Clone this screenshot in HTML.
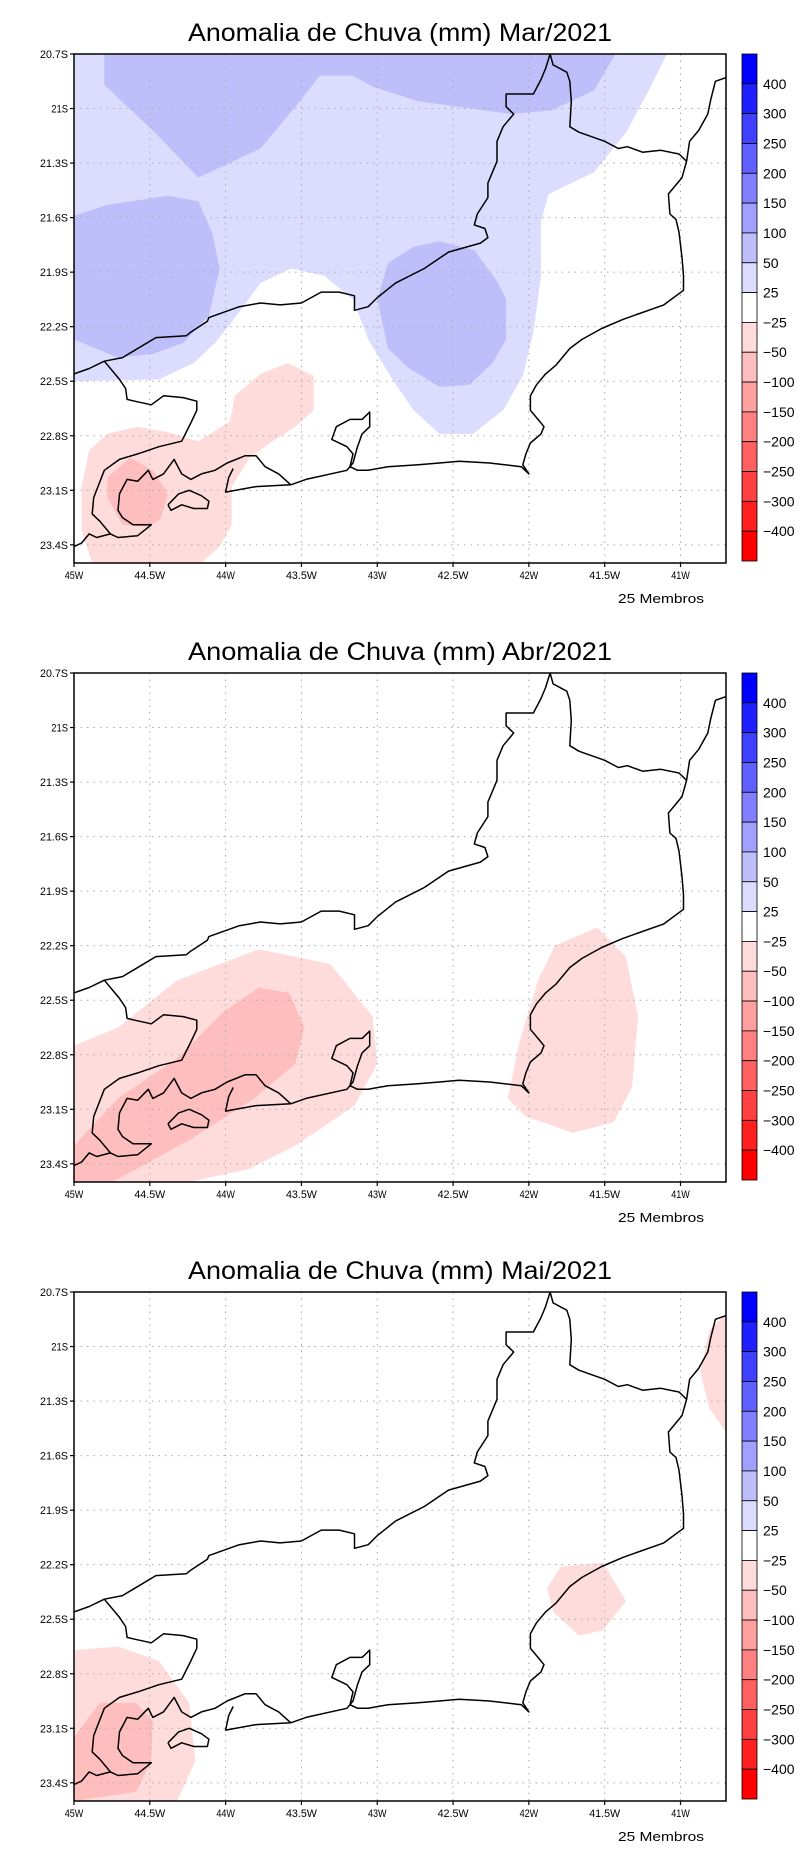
<!DOCTYPE html>
<html><head><meta charset="utf-8">
<style>
html,body{margin:0;padding:0;background:#fff;}
svg{display:block;}
text{font-family:"Liberation Sans",sans-serif;fill:#000;}
</style></head>
<body>
<svg id="fig" width="800" height="1854" viewBox="0 0 800 1854" xmlns="http://www.w3.org/2000/svg"></svg>
<script>
// ---- data ----
const panelTitles = ["Anomalia de Chuva (mm) Mar/2021","Anomalia de Chuva (mm) Abr/2021","Anomalia de Chuva (mm) Mai/2021"];
const lonTicks = [45,44.5,44,43.5,43,42.5,42,41.5,41];
const lonTickLabels = ["45W","44.5W","44W","43.5W","43W","42.5W","42W","41.5W","41W"];
const latTicks = [20.7,21,21.3,21.6,21.9,22.2,22.5,22.8,23.1,23.4];
const latTickLabels = ["20.7S","21S","21.3S","21.6S","21.9S","22.2S","22.5S","22.8S","23.1S","23.4S"];
const cbarLabels = ["400","300","250","200","150","100","50","25","-25","-50","-100","-150","-200","-250","-300","-400"];
const cbarColors = ["#0000ff","#2020ff","#4040ff","#6060ff","#8080ff","#a0a0ff","#bebefb","#dcdcfe","#ffffff","#ffdcdc","#ffbebe","#ffa0a0","#ff8080","#ff6060","#ff4040","#ff2020","#ff0000"];
// outlines [lonW, latS]
const borderLine = [[45.00,22.46],[44.90,22.43],[44.80,22.39],[44.68,22.37],[44.60,22.33],[44.46,22.26],[44.26,22.25],[44.23,22.23],[44.12,22.17],[44.11,22.15],[43.91,22.09],[43.77,22.07],[43.64,22.08],[43.50,22.07],[43.37,22.01],[43.25,22.01],[43.15,22.03],[43.15,22.11],[43.06,22.09],[43.00,22.04],[42.88,21.96],[42.69,21.88],[42.53,21.79],[42.32,21.74],[42.27,21.71],[42.29,21.66],[42.36,21.64],[42.34,21.58],[42.27,21.49],[42.27,21.41],[42.21,21.29],[42.21,21.18],[42.17,21.10],[42.10,21.03],[42.15,20.99],[42.15,20.92],[41.97,20.92],[41.92,20.84],[41.89,20.78],[41.86,20.70],[41.84,20.76],[41.75,20.80],[41.73,20.85],[41.72,20.96],[41.73,21.10],[41.67,21.13],[41.50,21.18],[41.41,21.22],[41.35,21.21],[41.25,21.24],[41.13,21.23],[41.01,21.25],[40.96,21.29]];
const northCoast = [[40.96,21.29],[40.94,21.18],[40.88,21.12],[40.82,21.03],[40.80,20.95],[40.77,20.85],[40.70,20.83]];
const mainCoast = [[40.96,21.29],[40.99,21.38],[41.08,21.47],[41.07,21.58],[41.03,21.61],[41.01,21.68],[40.99,21.82],[40.98,21.92],[40.98,22.00],[41.11,22.08],[41.28,22.13],[41.38,22.16],[41.52,22.21],[41.65,22.27],[41.73,22.32],[41.78,22.37],[41.82,22.41],[41.89,22.46],[41.95,22.52],[41.99,22.58],[41.99,22.66],[41.94,22.71],[41.90,22.75],[41.92,22.79],[41.99,22.84],[42.02,22.90],[42.04,22.96],[42.00,23.01],[42.05,22.97],[42.26,22.95],[42.46,22.94],[42.59,22.95],[42.73,22.96],[42.93,22.97],[43.06,22.99],[43.13,22.99],[43.18,22.97],[43.16,22.90],[43.20,22.86],[43.30,22.82],[43.27,22.75],[43.18,22.71],[43.10,22.71],[43.05,22.67],[43.05,22.75],[43.10,22.79],[43.13,22.86],[43.16,22.95],[43.20,22.99],[43.47,23.04],[43.57,23.07],[43.65,23.01],[43.74,22.97],[43.80,22.91],[43.87,22.91],[43.99,22.95],[44.07,22.99],[44.16,23.01],[44.23,23.04],[44.29,23.01],[44.34,22.93],[44.41,23.01],[44.48,23.04],[44.51,22.99],[44.58,23.05],[44.65,23.04],[44.70,23.12],[44.71,23.21],[44.68,23.25],[44.61,23.29],[44.49,23.29],[44.58,23.35],[44.71,23.36],[44.76,23.34],[44.83,23.27],[44.88,23.23],[44.87,23.14],[44.80,22.99],[44.70,22.93],[44.58,22.90],[44.44,22.86],[44.29,22.83],[44.23,22.73],[44.19,22.66],[44.19,22.61],[44.28,22.59],[44.41,22.58],[44.49,22.63],[44.60,22.61],[44.65,22.60],[44.66,22.54],[44.70,22.49],[44.73,22.46],[44.80,22.39]];
const swCoast = [[44.76,23.34],[44.85,23.36],[44.90,23.34],[44.95,23.39],[45.00,23.41]];
const restinga = [[43.57,23.07],[43.80,23.08],[44.00,23.11],[43.98,23.03],[43.95,22.98]];
const ilhaGrande = [[44.38,23.18],[44.31,23.12],[44.24,23.10],[44.16,23.13],[44.11,23.16],[44.12,23.20],[44.21,23.20],[44.29,23.18],[44.36,23.21],[44.38,23.18]];
// contour fills per panel: [colorIndex, polygon]
const marLight = [[45,20.7],[41.09,20.7],[41.21,20.90],[41.35,21.12],[41.57,21.35],[41.87,21.47],[41.92,21.62],[41.92,21.92],[41.97,22.23],[42.04,22.47],[42.17,22.66],[42.37,22.79],[42.59,22.79],[42.76,22.66],[42.90,22.49],[43.06,22.27],[43.16,22.05],[43.35,21.92],[43.57,21.88],[43.77,21.96],[43.91,22.12],[44.07,22.29],[44.21,22.40],[44.44,22.49],[45,22.50]];
const marBlueA = [[44.80,20.70],[44.80,20.87],[44.48,21.12],[44.18,21.38],[43.77,21.22],[43.54,20.99],[43.38,20.82],[43.16,20.82],[43.03,20.88],[42.73,20.96],[42.12,21.03],[41.85,21.01],[41.57,20.90],[41.43,20.70]];
const marBlueB = [[45,21.59],[44.78,21.53],[44.38,21.48],[44.18,21.51],[44.09,21.68],[44.04,21.88],[44.11,22.14],[44.28,22.29],[44.48,22.35],[44.71,22.37],[45,22.27]];
const marBlueC = [[42.93,21.85],[42.76,21.76],[42.59,21.73],[42.36,21.78],[42.21,21.95],[42.15,22.05],[42.15,22.27],[42.24,22.40],[42.39,22.52],[42.59,22.53],[42.79,22.43],[42.93,22.32],[43.00,22.05]];
const marPink = [[44.88,23.5],[44.95,23.32],[44.95,23.08],[44.90,22.88],[44.78,22.79],[44.58,22.75],[44.38,22.78],[44.18,22.83],[43.97,22.72],[43.94,22.58],[43.77,22.46],[43.59,22.40],[43.42,22.47],[43.42,22.66],[43.54,22.75],[43.69,22.83],[43.84,22.92],[43.96,23.08],[43.96,23.29],[44.04,23.41],[44.16,23.5]];
const marPink2 = [[44.78,23.03],[44.63,22.92],[44.48,22.99],[44.38,23.12],[44.43,23.26],[44.51,23.30],[44.68,23.29],[44.78,23.14]];
const abrPink = [[45,22.75],[44.71,22.65],[44.32,22.39],[43.78,22.22],[43.31,22.30],[43.03,22.59],[43.0,22.85],[43.15,23.08],[43.54,23.30],[43.85,23.43],[44.24,23.5],[45,23.5]];
const abrPink2 = [[45,23.30],[44.71,23.04],[44.32,22.82],[44.01,22.56],[43.78,22.43],[43.58,22.46],[43.48,22.65],[43.54,22.85],[43.81,23.04],[44.24,23.27],[44.59,23.43],[44.75,23.5],[45,23.5]];
const abrPinkE = [[41.83,22.20],[41.55,22.10],[41.36,22.26],[41.28,22.59],[41.32,22.98],[41.44,23.17],[41.71,23.23],[42.02,23.14],[42.14,23.04],[42.06,22.72],[41.94,22.39]];
const maiPink = [[45,22.67],[44.71,22.65],[44.44,22.73],[44.24,22.96],[44.20,23.28],[44.32,23.5],[45,23.5]];
const maiPink2 = [[45,23.15],[44.83,22.96],[44.59,22.96],[44.48,23.06],[44.49,23.28],[44.59,23.45],[45,23.5]];
const maiPinkE = [[41.79,22.21],[41.51,22.19],[41.36,22.40],[41.51,22.56],[41.67,22.59],[41.84,22.46],[41.88,22.33]];
const maiPinkNE = [[40.70,20.82],[40.81,20.91],[40.87,21.14],[40.81,21.34],[40.70,21.47]];
const panelFills = [
  [[7,marLight],[6,marBlueA],[6,marBlueB],[6,marBlueC],[9,marPink],[10,marPink2]],
  [[9,abrPink],[10,abrPink2],[9,abrPinkE]],
  [[9,maiPink],[10,maiPink2],[9,maiPinkE],[9,maiPinkNE]]
];
const panelNames = ["mar","abr","mai"];

// ---- layout ----
const NS="http://www.w3.org/2000/svg";
const svg=document.getElementById('fig');
const PL=74, PR=726, PH=509, LON0=45, LON1=40.7, LAT0=20.7, LAT1=23.5;
const panelTop=[54,673,1292];
function el(tag,attrs,parent){const e=document.createElementNS(NS,tag);for(const k in attrs)e.setAttribute(k,attrs[k]);(parent||svg).appendChild(e);return e;}
function xs(lonW){return PL+(LON0-lonW)/(LON0-LON1)*(PR-PL);}
function ys(top,latS){return top+(latS-LAT0)/(LAT1-LAT0)*PH;}
function pts(arr,top){return arr.map(p=>xs(p[0]).toFixed(1)+','+ys(top,p[1]).toFixed(1)).join(' ');}

panelNames.forEach((nm,pi)=>{
  const top=panelTop[pi];
  const g=el('g',{});
  
  
  const t=el('text',{x:400,y:top-13,'text-anchor':'middle','font-size':25,textLength:424,lengthAdjust:'spacingAndGlyphs'},g);
  t.textContent=panelTitles[pi];
  
  
  const cp=el('clipPath',{id:'clip'+pi},g);
  el('rect',{x:PL,y:top,width:PR-PL,height:PH},cp);
  const fg=el('g',{'clip-path':'url(#clip'+pi+')'},g);
  panelFills[pi].forEach((f,fi)=>{
    const p=el('polygon',{points:pts(f[1],top),fill:cbarColors[f[0]],stroke:'none'},fg);
    
    
  });
  // grid
  lonTicks.forEach((lon,i)=>{
    const x=xs(lon);
    if(i>0) el('line',{x1:x,y1:top,x2:x,y2:top+PH,stroke:'#aaa','stroke-width':1,'stroke-dasharray':'1.5,5'},fg);
    el('line',{x1:x,y1:top+PH,x2:x,y2:top+PH+4,stroke:'#000','stroke-width':1.2},g);
    const lt=el('text',{x:x,y:top+PH+16,'text-anchor':'middle','font-size':11,textLength:lonTickLabels[i].length*6.2,lengthAdjust:'spacingAndGlyphs'},g);
    lt.textContent=lonTickLabels[i];
    
    
  });
  latTicks.forEach((lat,i)=>{
    const y=ys(top,lat);
    if(i>0) el('line',{x1:PL,y1:y,x2:PR,y2:y,stroke:'#aaa','stroke-width':1,'stroke-dasharray':'1.5,5'},fg);
    el('line',{x1:PL-4,y1:y,x2:PL,y2:y,stroke:'#000','stroke-width':1.2},g);
    const lt=el('text',{x:PL-6,y:y+4,'text-anchor':'end','font-size':11,textLength:latTickLabels[i].length*5.6,lengthAdjust:'spacingAndGlyphs'},g);
    lt.textContent=latTickLabels[i];
    
    
  });
  // map outlines
  [borderLine,northCoast,mainCoast,swCoast,restinga,ilhaGrande].forEach(line=>{
    const pl=el('polyline',{points:pts(line,top),fill:'none',stroke:'#000','stroke-width':1.5,'stroke-linejoin':'round'},fg);
    
    
  });
  el('rect',{x:PL,y:top,width:PR-PL,height:PH,fill:'none',stroke:'#000','stroke-width':1.5},g);
  // colorbar
  const cb=el('g',{},g);
  
  
  const segH=(PH-2)/cbarColors.length;
  cbarColors.forEach((c,i)=>{
    el('rect',{x:742,y:top+i*segH,width:15,height:segH,fill:c,stroke:'#000','stroke-width':0.8},cb);
  });
  cbarLabels.forEach((lb,i)=>{
    const y=top+(i+1)*segH;
    const tx=el('text',{x:763,y:y+5,'font-size':14},cb);
    tx.textContent=lb.replace('-','\u2212');
    
    
  });
  const mb=el('text',{x:618,y:top+PH+40,'font-size':13,textLength:86,lengthAdjust:'spacingAndGlyphs'},g);
  mb.textContent='25 Membros';
  
  
});
</script>
</body></html>
